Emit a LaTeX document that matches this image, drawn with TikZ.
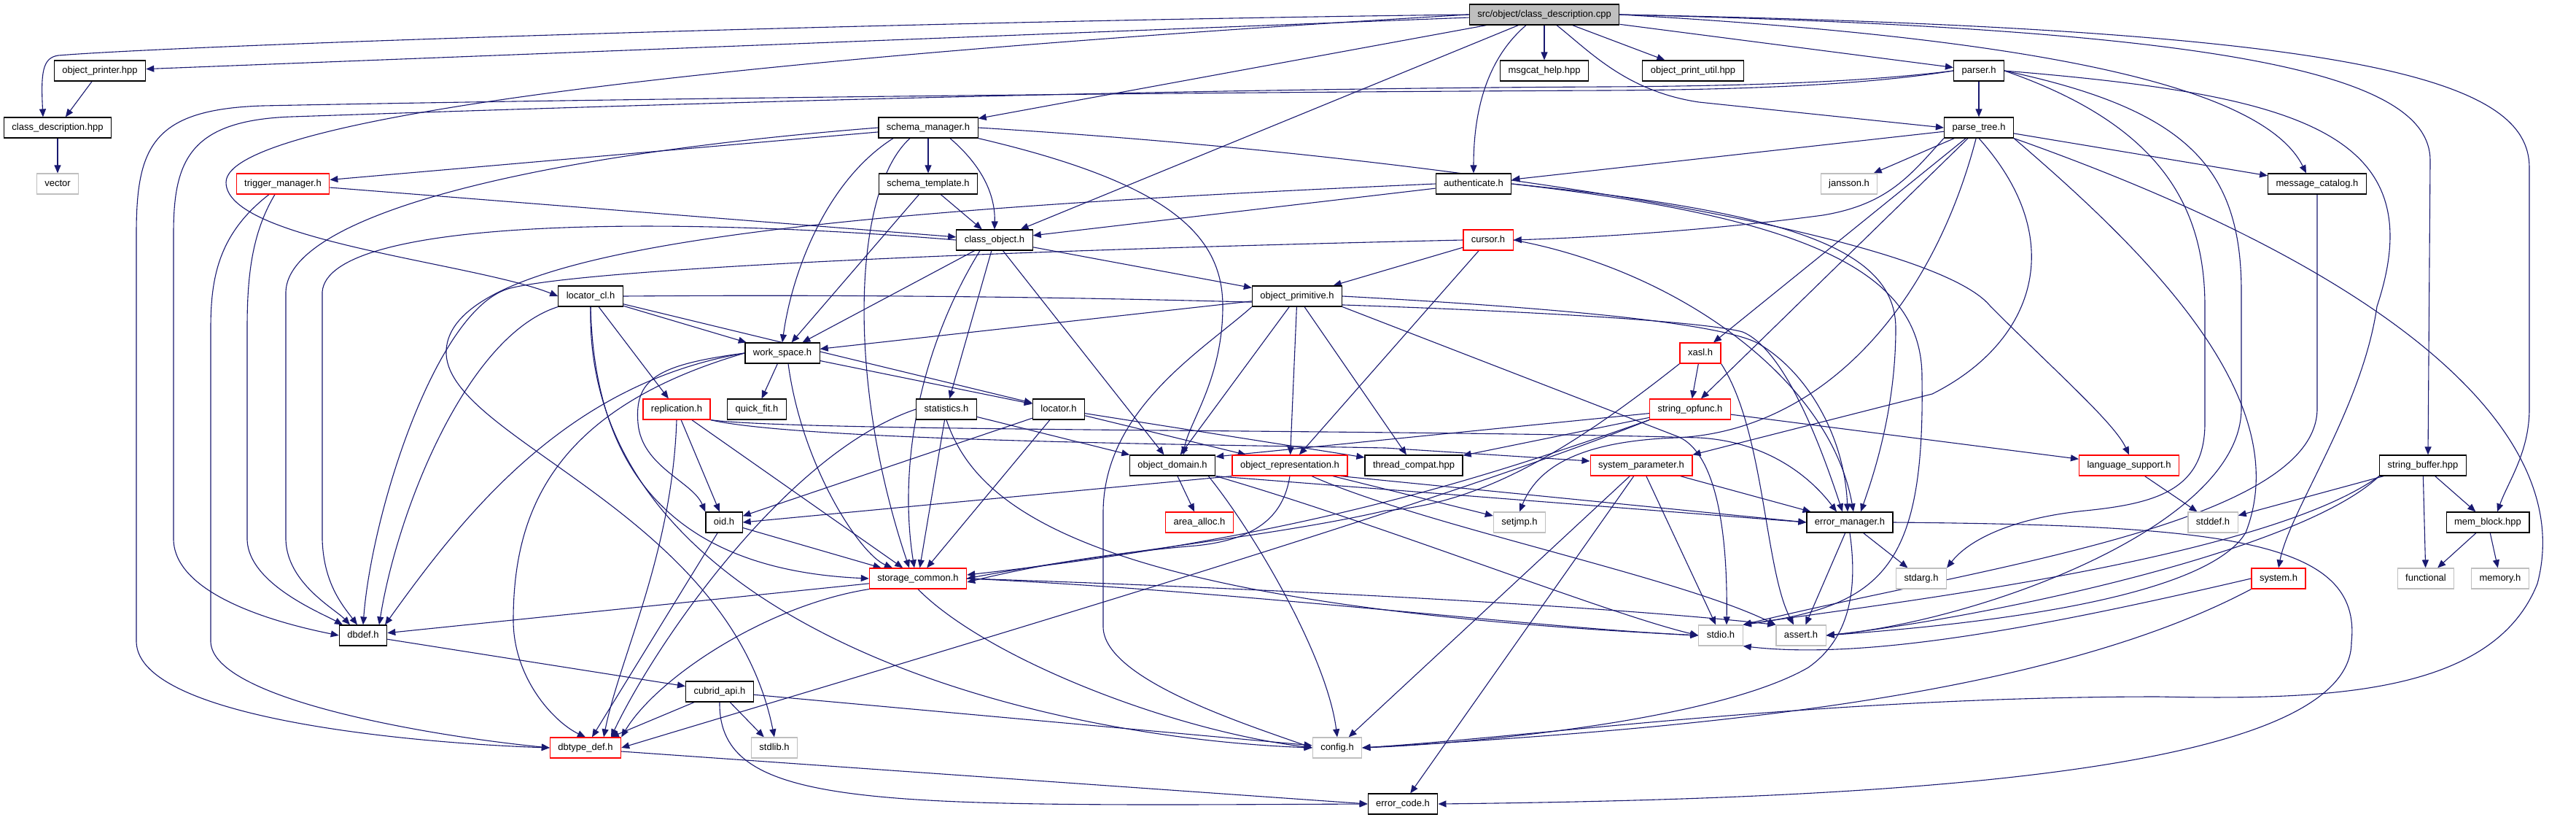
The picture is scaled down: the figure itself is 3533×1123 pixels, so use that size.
\documentclass[tikz,border=0pt]{standalone}
\usepackage{fontspec}
\setmainfont{Liberation Sans}
\usepackage{xcolor}
\usepackage{tikz}
\usetikzlibrary{arrows.meta}
\definecolor{depblue}{HTML}{191970}
\definecolor{sysgray}{HTML}{BFBFBF}
\definecolor{truncred}{HTML}{FF0000}
\pgfdeclarelayer{edges}
\pgfsetlayers{edges,main}

\begin{document}
\begin{tikzpicture}[
    x=1bp,y=-1bp,
    file/.style={draw=black,line width=1.2bp,fill=white,minimum height=28bp,inner xsep=11bp,inner ysep=0pt,
      text height=9.5bp,text depth=2.8bp,font=\fontsize{13bp}{15bp}\selectfont},
    redfile/.style={file,draw=truncred},
    sysfile/.style={file,draw=sysgray},
    rootfile/.style={file,fill=sysgray},
    dep/.style={-{Triangle[length=11bp,width=9bp]},draw=depblue,line width=1.1bp}
  ]
  \useasboundingbox (0,0) rectangle (3533,1123);

  \node[rootfile] (desccpp) at (2118,20) {src/object/class\_description.cpp};
  \node[file] (printer) at (137,97) {object\_printer.hpp};
  \node[file] (deschpp) at (79,175) {class\_description.hpp};
  \node[sysfile] (vector) at (79,252) {vector};
  \node[file] (msgcathelp) at (2118,97) {msgcat\_help.hpp};
  \node[file] (printutil) at (2322,97) {object\_print\_util.hpp};
  \node[file] (parser) at (2714,97) {parser.h};
  \node[file] (parsetree) at (2714,175) {parse\_tree.h};
  \node[file] (schemamgr) at (1273,175) {schema\_manager.h};
  \node[file] (schematpl) at (1273,252) {schema\_template.h};
  \node[redfile] (triggermgr) at (388,252) {trigger\_manager.h};
  \node[file] (auth) at (2021,252) {authenticate.h};
  \node[sysfile] (jansson) at (2536,252) {jansson.h};
  \node[file] (msgcatalog) at (3178,252) {message\_catalog.h};
  \node[file] (classobj) at (1364,329) {class\_object.h};
  \node[redfile] (cursor) at (2041,329) {cursor.h};
  \node[file] (locatorcl) at (810,406) {locator\_cl.h};
  \node[file] (objprim) at (1779,406) {object\_primitive.h};
  \node[file] (workspace) at (1073,484) {work\_space.h};
  \node[redfile] (xasl) at (2332,484) {xasl.h};
  \node[redfile] (replication) at (928,561) {replication.h};
  \node[file] (quickfit) at (1038,561) {quick\_fit.h};
  \node[file] (statistics) at (1298,561) {statistics.h};
  \node[file] (locator) at (1452,561) {locator.h};
  \node[redfile] (stropfunc) at (2318,561) {string\_opfunc.h};
  \node[file] (objdomain) at (1608,638) {object\_domain.h};
  \node[redfile] (objrepr) at (1769,638) {object\_representation.h};
  \node[file] (threadcompat) at (1939,638) {thread\_compat.hpp};
  \node[redfile] (sysparam) at (2251,638) {system\_parameter.h};
  \node[redfile] (langsupport) at (2920,638) {language\_support.h};
  \node[file] (strbuffer) at (3323,638) {string\_buffer.hpp};
  \node[file] (oid) at (993,716) {oid.h};
  \node[redfile] (areaalloc) at (1645,716) {area\_alloc.h};
  \node[sysfile] (setjmp) at (2084,716) {setjmp.h};
  \node[file] (errmgr) at (2537,716) {error\_manager.h};
  \node[sysfile] (stddef) at (3035,716) {stddef.h};
  \node[file] (memblock) at (3412,716) {mem\_block.hpp};
  \node[redfile] (storage) at (1259,793) {storage\_common.h};
  \node[sysfile] (stdarg) at (2635,793) {stdarg.h};
  \node[redfile] (system) at (3125,793) {system.h};
  \node[sysfile] (functional) at (3327,793) {functional};
  \node[sysfile] (memory) at (3429,793) {memory.h};
  \node[file] (dbdef) at (498,871) {dbdef.h};
  \node[sysfile] (stdio) at (2360,871) {stdio.h};
  \node[sysfile] (assert) at (2470,871) {assert.h};
  \node[file] (cubridapi) at (987,948) {cubrid\_api.h};
  \node[sysfile] (stdlib) at (1062,1025) {stdlib.h};
  \node[sysfile] (config) at (1834,1025) {config.h};
  \node[redfile] (dbtypedef) at (803,1025) {dbtype\_def.h};
  \node[file] (errcode) at (1924,1102) {error\_code.h};

  \begin{pgfonlayer}{edges}
  % class_description.cpp
  \draw[dep] (desccpp) -- (printer);
  \draw[dep] (desccpp.west) .. controls (1200,30) and (250,62) .. (80,76) .. controls (58,79) and (56,100) .. ([xshift=-20bp]deschpp.north);
  \draw[dep] (desccpp) -- (msgcathelp);
  \draw[dep] (desccpp) -- (printutil);
  \draw[dep] (desccpp) -- (parser);
  \draw[dep] ([xshift=17bp]desccpp.south) .. controls (2180,70) and (2230,125) .. (2330,140) -- (parsetree.west);
  \draw[dep] (desccpp) -- (schemamgr);
  \draw[dep] ([xshift=-25bp]desccpp.south) .. controls (2040,80) and (2021,150) .. (auth.north);
  \draw[dep] (desccpp) -- (classobj);
  \draw[dep] (desccpp.west) .. controls (1000,80) and (310,160) .. (310,250) .. controls (310,330) and (650,360) .. (locatorcl.west);
  \draw[dep] (desccpp.east) .. controls (2750,50) and (3100,110) .. ([xshift=-15bp]msgcatalog.north);
  \draw[dep] (desccpp.east) .. controls (3050,40) and (3333,100) .. (3333,220) -- ([xshift=7bp]strbuffer.north);
  \draw[dep] (desccpp.east) .. controls (3250,40) and (3469,110) .. (3469,230) -- (3469,560) .. controls (3469,620) and (3440,660) .. ([xshift=13bp]memblock.north);
  \draw[dep] (printer) -- (deschpp);
  \draw[dep] (deschpp) -- (vector);

  % parser.h, parse_tree.h
  \draw[dep] (parser) -- (parsetree);
  \draw[dep] (parser.west) .. controls (2560,112) and (2400,118) .. (2200,119) .. controls (1500,122) and (700,150) .. (400,160) .. controls (260,165) and (238,220) .. (238,320) -- (238,740) .. controls (240,810) and (360,850) .. (dbdef.west);
  \draw[dep] (parser.west) .. controls (2560,116) and (2400,123) .. (2200,124) .. controls (1500,127) and (700,138) .. (360,145) .. controls (210,150) and (187,200) .. (187,320) -- (187,880) .. controls (190,990) and (600,1020) .. (dbtypedef.west);
  \draw[dep] (parser.east) .. controls (3150,130) and (3340,180) .. (3260,420) .. controls (3240,560) and (3140,700) .. (system.north);
  \draw[dep] (parser.east) .. controls (2960,170) and (3024,280) .. (3024,420) -- (3024,580) .. controls (3024,670) and (2960,690) .. (2860,700) .. controls (2760,710) and (2700,740) .. (stdarg.north east);
  \draw[dep] (parser.east) .. controls (3000,150) and (3074,230) .. (3074,400) -- (3074,560) .. controls (3074,720) and (2720,850) .. (assert.east);
  \draw[dep] (parsetree) -- (auth);
  \draw[dep] (parsetree) -- (jansson);
  \draw[dep] (parsetree) -- (msgcatalog);
  \draw[dep] (parsetree.south west) .. controls (2620,240) and (2590,280) .. (2500,295) .. controls (2350,315) and (2200,325) .. (cursor.east);
  \draw[dep] (parsetree) -- (xasl);
  \draw[dep] (parsetree) -- (stropfunc);
  \draw[dep] (parsetree) .. controls (2650,420) and (2500,590) .. (2300,600) .. controls (2150,605) and (2105,650) .. (setjmp.north);
  \draw[dep] (parsetree.south) .. controls (2840,330) and (2790,470) .. (2650,540) -- (sysparam.north east);
  \draw[dep] (parsetree.south east) .. controls (2950,350) and (3150,550) .. (3080,730) .. controls (3020,830) and (2650,860) .. (assert.east);
  \draw[dep] (parsetree.south east) .. controls (3300,380) and (3533,600) .. (3480,800) .. controls (3420,950) and (3200,960) .. (2960,955) .. controls (2500,955) and (2100,1010) .. (config.east);

  % schema_manager.h, schema_template.h, trigger_manager.h
  \draw[dep] (schemamgr) -- (schematpl);
  \draw[dep] (schemamgr) -- (triggermgr);
  \draw[dep] ([xshift=30bp]schemamgr.south) .. controls (1350,230) and (1365,270) .. (classobj.north);
  \draw[dep] ([xshift=-48bp]schemamgr.south) .. controls (1130,250) and (1085,380) .. (workspace.north);
  \draw[dep] ([xshift=-25bp]schemamgr.south) .. controls (1170,260) and (1160,520) .. ([xshift=-12bp]storage.north);
  \draw[dep] (schemamgr.south east) .. controls (1600,250) and (1677,320) .. (1677,420) .. controls (1677,520) and (1630,580) .. ([xshift=15bp]objdomain.north);
  \draw[dep] (schemamgr.west) .. controls (700,215) and (395,300) .. (392,400) -- (392,740) .. controls (394,800) and (460,835) .. ([xshift=-18bp]dbdef.north);
  \draw[dep] (schemamgr.east) .. controls (2000,215) and (2650,320) .. (2730,420) .. controls (2820,510) and (2900,580) .. (langsupport.north);
  \draw[dep] (schematpl) -- (classobj);
  \draw[dep] (schematpl) -- (workspace);
  \draw[dep] (triggermgr) -- (classobj);
  \draw[dep] ([xshift=-11bp]triggermgr.south) .. controls (345,320) and (339,380) .. (339,450) -- (339,740) .. controls (341,800) and (440,840) .. ([xshift=-28bp]dbdef.north);
  \draw[dep] ([xshift=-19bp]triggermgr.south) .. controls (300,320) and (289,380) .. (289,450) -- (289,880) .. controls (292,960) and (600,1010) .. (dbtypedef.west);

  % authenticate.h, message_catalog.h, class_object.h, cursor.h
  \draw[dep] (auth) -- (classobj);
  \draw[dep] (auth.west) .. controls (1100,290) and (620,340) .. (612,480) .. controls (606,600) and (1000,700) .. (stdlib.north);
  \draw[dep] (auth.east) .. controls (2450,290) and (2600,340) .. (2600,450) .. controls (2600,560) and (2570,650) .. ([xshift=15bp]errmgr.north);
  \draw[dep] (auth.east) .. controls (2500,300) and (2638,380) .. (2636,520) .. controls (2640,780) and (2580,830) .. (stdio.north east);
  \draw[dep] (msgcatalog.south) -- (3178,560) .. controls (3178,720) and (2700,780) .. (stdio.north east);
  \draw[dep] (classobj) -- (objprim);
  \draw[dep] (classobj) -- (workspace);
  \draw[dep] (classobj) -- (statistics);
  \draw[dep] (classobj) -- (objdomain);
  \draw[dep] ([xshift=-20bp]classobj.south) .. controls (1260,480) and (1232,640) .. ([xshift=-5bp]storage.north);
  \draw[dep] (classobj.west) .. controls (900,295) and (450,300) .. (442,400) -- (442,740) .. controls (444,800) and (470,830) .. ([xshift=-8bp]dbdef.north);
  \draw[dep] (cursor.west) .. controls (1300,345) and (800,370) .. (700,395) .. controls (600,420) and (510,700) .. (dbdef.north);
  \draw[dep] (cursor) -- (objprim);
  \draw[dep] (cursor) -- (objrepr);
  \draw[dep] (cursor.east) .. controls (2300,370) and (2510,520) .. ([xshift=5bp]errmgr.north);

  % locator_cl.h, object_primitive.h, work_space.h
  \draw[dep] (locatorcl) -- (workspace);
  \draw[dep] (locatorcl) -- (replication);
  \draw[dep] (locatorcl) -- (locator);
  \draw[dep] (locatorcl.south west) .. controls (640,460) and (545,700) .. ([xshift=22bp]dbdef.north);
  \draw[dep] (locatorcl.east) .. controls (1600,400) and (2300,430) .. (2390,455) .. controls (2450,480) and (2500,620) .. ([xshift=-10bp]errmgr.north);
  \draw[dep] (locatorcl.south) .. controls (815,620) and (900,780) .. (storage.west);
  \draw[dep] (locatorcl.south) .. controls (800,850) and (1400,1010) .. (config.west);
  \draw[dep] (objprim) -- (workspace);
  \draw[dep] (objprim) -- (objdomain);
  \draw[dep] (objprim) -- (objrepr);
  \draw[dep] (objprim) -- (threadcompat);
  \draw[dep] (objprim.south east) -- (2300,598) .. controls (2345,615) and (2370,700) .. ([xshift=8bp]stdio.north);
  \draw[dep] (objprim.east) .. controls (2100,420) and (2350,440) .. (2410,470) .. controls (2480,510) and (2530,600) .. ([xshift=-3bp]errmgr.north);
  \draw[dep] (objprim.south west) .. controls (1650,480) and (1515,560) .. (1513,700) -- (1513,860) .. controls (1515,930) and (1700,990) .. (config.west);
  \draw[dep] (workspace) -- (quickfit);
  \draw[dep] (workspace) -- (locator);
  \draw[dep] (workspace.west) .. controls (780,525) and (640,700) .. ([xshift=30bp]dbdef.north);
  \draw[dep] (workspace.west) .. controls (760,560) and (704,700) .. (704,850) .. controls (704,930) and (760,990) .. (dbtypedef.north);
  \draw[dep] ([xshift=8bp]workspace.south) .. controls (1100,640) and (1180,760) .. ([xshift=-35bp]storage.north);
  \draw[dep] (workspace.west) .. controls (900,500) and (870,520) .. (875,580) .. controls (880,640) and (950,660) .. (oid.north west);

  % replication.h, statistics.h, locator.h
  \draw[dep] (replication) -- (oid);
  \draw[dep] (replication.south) .. controls (922,760) and (850,900) .. ([xshift=25bp]dbtypedef.north);
  \draw[dep] (replication.south east) .. controls (1100,592) and (1900,588) .. (2330,600) .. controls (2420,605) and (2480,650) .. ([xshift=-18bp]errmgr.north);
  \draw[dep] (replication.south east) .. controls (1100,605) and (1700,610) .. (1900,614) -- ([yshift=6bp]sysparam.west);
  \draw[dep] (replication) -- (storage);
  \draw[dep] (statistics) -- (objdomain);
  \draw[dep] (statistics) -- (storage);
  \draw[dep] (statistics.west) .. controls (1080,620) and (900,880) .. ([xshift=35bp]dbtypedef.north);
  \draw[dep] (statistics.south) .. controls (1340,700) and (1500,830) .. (stdio.west);
  \draw[dep] (locator) -- (oid);
  \draw[dep] (locator) -- (storage);
  \draw[dep] (locator) -- (objrepr);
  \draw[dep] (locator) -- ([yshift=11bp]threadcompat.west);

  % xasl.h, string_opfunc.h
  \draw[dep] (xasl) -- (stropfunc);
  \draw[dep] (xasl.south west) .. controls (2150,620) and (2030,690) .. (1900,700) .. controls (1750,735) and (1500,760) .. (storage.east);
  \draw[dep] (xasl.south east) .. controls (2420,590) and (2420,780) .. ([xshift=-10bp]assert.north);
  \draw[dep] (stropfunc) -- ([yshift=12bp]objdomain.east);
  \draw[dep] (stropfunc) -- (threadcompat);
  \draw[dep] (stropfunc) -- (langsupport);
  \draw[dep] (stropfunc.south west) .. controls (2050,650) and (1800,735) .. ([yshift=5bp]storage.east);
  \draw[dep] (stropfunc.south west) .. controls (1950,700) and (1200,920) .. (dbtypedef.east);

  % object_domain.h, object_representation.h
  \draw[dep] (objdomain) -- (areaalloc);
  \draw[dep] (objdomain.south east) -- (errmgr.west);
  \draw[dep] (objdomain.south east) .. controls (1900,720) and (2200,840) .. (stdio.west);
  \draw[dep] ([xshift=-10bp]objdomain.south east) .. controls (1720,730) and (1820,900) .. (config.north);
  \draw[dep] (objrepr.south west) -- (oid.east);
  \draw[dep] (objrepr) -- (setjmp);
  \draw[dep] ([xshift=-10bp]objrepr.south east) -- (errmgr.west);
  \draw[dep] ([xshift=30bp]objrepr.south) .. controls (1950,720) and (2300,790) .. (assert.north west);
  \draw[dep] (objrepr.south) .. controls (1760,710) and (1720,740) .. (1640,748) .. controls (1500,760) and (1400,780) .. ([yshift=-5bp]storage.east);

  % system_parameter.h, error_manager.h and the rest
  \draw[dep] (sysparam) -- (errmgr);
  \draw[dep] (sysparam) -- (config);
  \draw[dep] (sysparam) -- (errcode);
  \draw[dep] (sysparam) -- (stdio);
  \draw[dep] (errmgr) -- (stdarg);
  \draw[dep] (errmgr) -- (assert);
  \draw[dep] (errmgr.south) .. controls (2550,820) and (2530,880) .. (2480,915) .. controls (2350,990) and (2000,1020) .. (config.east);
  \draw[dep] (errmgr.east) .. controls (3050,720) and (3240,740) .. (3225,880) .. controls (3225,1060) and (2600,1095) .. (errcode.east);
  \draw[dep] (langsupport) -- (stddef);
  \draw[dep] (strbuffer) -- (stddef);
  \draw[dep] (strbuffer) -- (memblock);
  \draw[dep] (strbuffer) -- (functional);
  \draw[dep] (strbuffer.south west) .. controls (3150,760) and (2700,850) .. (assert.east);
  \draw[dep] (strbuffer.south west) .. controls (3100,770) and (2560,830) .. (stdio.north east);
  \draw[dep] (memblock) -- (functional);
  \draw[dep] (memblock) -- (memory);
  \draw[dep] (system.west) .. controls (2800,860) and (2560,905) .. (stdio.south east);
  \draw[dep] (system.south west) .. controls (2800,960) and (2300,1000) .. (config.east);
  \draw[dep] (storage) -- (dbdef);
  \draw[dep] (storage.south west) .. controls (1050,830) and (900,930) .. (dbtypedef.north east);
  \draw[dep] (storage.south) .. controls (1350,900) and (1600,1000) .. (config.west);
  \draw[dep] (storage.east) .. controls (1700,810) and (2100,860) .. (stdio.west);
  \draw[dep] (storage.east) .. controls (1700,805) and (2200,830) .. (assert.north west);
  \draw[dep] (oid) -- (storage);
  \draw[dep] (oid) -- (dbtypedef);
  \draw[dep] (dbdef) -- (cubridapi);
  \draw[dep] (cubridapi) -- (dbtypedef);
  \draw[dep] (cubridapi) -- (stdlib);
  \draw[dep] (cubridapi) -- (config);
  \draw[dep] (cubridapi.south) .. controls (985,1110) and (1200,1105) .. (errcode.west);
  \draw[dep] ([yshift=-5bp]dbtypedef.east) -- (errcode.west);
  \end{pgfonlayer}
\end{tikzpicture}
\end{document}
